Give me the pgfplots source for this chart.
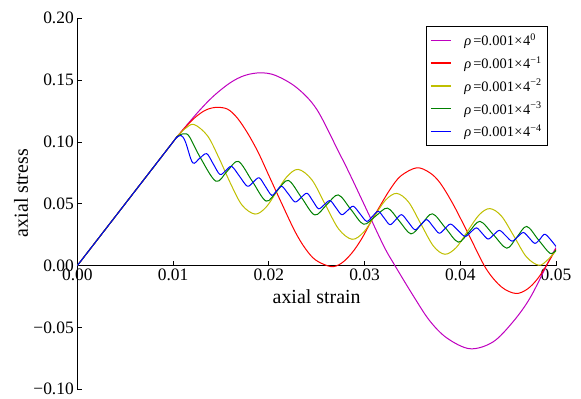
\documentclass[border=0pt]{standalone}
\usepackage{fontspec}
\setmainfont{Liberation Serif}
\usepackage{pgfplots}
\pgfplotsset{compat=1.18}
\definecolor{mpM}{RGB}{191,0,191}
\definecolor{mpR}{RGB}{255,0,0}
\definecolor{mpY}{RGB}{191,191,0}
\definecolor{mpG}{RGB}{0,128,0}
\definecolor{mpB}{RGB}{0,0,255}
\begin{document}
\begin{tikzpicture}
\begin{axis}[
  scale only axis, width=478.7bp, height=371bp,
  xmin=0, xmax=0.05, ymin=-0.1, ymax=0.2,
  axis x line*=middle, axis y line*=left,
  hide obscured x ticks=false, hide obscured y ticks=false,
  xtick={0,0.01,0.02,0.03,0.04,0.05},
  xticklabels={0.00,0.01,0.02,0.03,0.04,0.05},
  ytick={-0.1,-0.05,0,0.05,0.1,0.15,0.2},
  yticklabels={−0.10,−0.05,0.00,0.05,0.10,0.15,0.20},
  tick align=inside, major tick length=4.5bp,
  tick style={black, line width=0.8bp},
  axis line style={black, line width=0.8bp},
  ticklabel style={font=\fontsize{17.5}{19}\selectfont},
  scaled x ticks=false, scaled y ticks=false,
  xlabel={axial strain}, ylabel={axial stress},
  label style={font=\fontsize{20}{22}\selectfont},
  x label style={at={(axis description cs:0.5,0.2488)}, anchor=center},
  y label style={at={(axis description cs:-0.1176,0.529)}, anchor=center},
  legend style={at={(axis description cs:0.9833,0.979)}, anchor=north east,
    draw=black, line width=0.8bp, fill=white,
    font=\fontsize{14.5}{16}\selectfont, inner xsep=4bp, inner ysep=5bp,
    row sep=5.5bp, cells={anchor=west}},
  legend image code/.code={\draw[line width=1.2bp, #1] (0bp,0bp) -- (20bp,0bp); \path (31bp,0bp);},
  every axis plot/.append style={line width=1bp, smooth, tension=0.55},
]
\coordinate (bbsw) at (rel axis cs:0,0);
\coordinate (bbne) at (rel axis cs:1,1);

\addplot[color=mpM] coordinates {
(0,0) (0.0095,0.0950) (0.0104,0.1040) (0.0125,0.1232) (0.0142,0.1369) (0.0160,0.1480) (0.0175,0.1538)
(0.0191,0.1559) (0.0207,0.1538) (0.0229,0.1440) (0.0250,0.1265) (0.0273,0.0920)
(0.0284,0.0750) (0.0300,0.0488) (0.0320,0.0160) (0.0331,0.0010) (0.0351,-0.0245)
(0.0368,-0.0445) (0.0386,-0.0585) (0.0410,-0.0672) (0.0434,-0.0618) (0.0455,-0.0455)
(0.0473,-0.0260) (0.0492,0.0030) (0.0500,0.0146)};
\addlegendentry{{\itshape ρ}\kern2bp=0.001\kern0.5bp×\kern0.5bp4\textsuperscript{0}}

\addplot[color=mpR] coordinates {
(0,0) (0.0095,0.0950) (0.0104,0.1040) (0.0115,0.1137) (0.0125,0.1211) (0.0135,0.1261) (0.01456,0.1280)
(0.0157,0.1265) (0.0167,0.1195) (0.0178,0.1070) (0.0189,0.0915) (0.0200,0.0730)
(0.0212,0.0528) (0.0227,0.0282) (0.0238,0.0140) (0.0249,0.0045) (0.0265,-0.0008)
(0.0276,0.0020) (0.0287,0.0104) (0.0297,0.0217) (0.0306,0.0345) (0.0316,0.0480)
(0.0327,0.0620) (0.0338,0.0726) (0.03545,0.0791) (0.0368,0.0752) (0.0379,0.0668)
(0.0393,0.0490) (0.0410,0.0232) (0.0427,-0.0025) (0.0443,-0.0172) (0.0458,-0.0225)
(0.0470,-0.0190) (0.0481,-0.0104) (0.0492,0.0027) (0.0500,0.0134)};
\addlegendentry{{\itshape ρ}\kern2bp=0.001\kern0.5bp×\kern0.5bp4\textsuperscript{−1}}

\addplot[color=mpY] coordinates {
(0,0) (0.0095,0.0950) (0.0104,0.1040) (0.0113,0.1110) (0.0122,0.1141) (0.0136,0.1050) (0.0148,0.0870)
(0.0160,0.0665) (0.0172,0.0490) (0.01856,0.0417) (0.0197,0.0471) (0.0208,0.0595)
(0.0219,0.0720) (0.02308,0.0778) (0.0245,0.0694) (0.0259,0.0494) (0.0273,0.0296)
(0.0287,0.0213) (0.0299,0.0270) (0.0310,0.0395) (0.0322,0.0530) (0.03336,0.0584)
(0.0346,0.0514) (0.0359,0.0335) (0.0372,0.0158) (0.0384,0.0092) (0.0396,0.0148)
(0.0408,0.0283) (0.0420,0.0413) (0.0431,0.0461) (0.0443,0.0401) (0.0456,0.0239)
(0.0469,0.0072) (0.0482,0.0003) (0.0491,0.0045) (0.0500,0.0120)};
\addlegendentry{{\itshape ρ}\kern2bp=0.001\kern0.5bp×\kern0.5bp4\textsuperscript{−2}}

\addplot[color=mpG] coordinates {
(0,0) (0.0095,0.0950) (0.0104,0.1040) (0.01075,0.1058) (0.0112,0.1066) (0.0117,0.1044) (0.01284,0.0875)
(0.01447,0.0683) (0.01565,0.0763) (0.01682,0.0843) (0.01827,0.0683) (0.01972,0.0522)
(0.02088,0.0606) (0.02204,0.0689) (0.02342,0.0550) (0.0248,0.0410) (0.02603,0.0491)
(0.02726,0.0572) (0.02858,0.0454) (0.0299,0.0335) (0.03115,0.0400) (0.0324,0.0465)
(0.03363,0.0361) (0.03485,0.0257) (0.03598,0.0338) (0.0371,0.0419) (0.03845,0.0305)
(0.0398,0.0190) (0.04093,0.0274) (0.04206,0.0358) (0.04346,0.0250) (0.04485,0.0141)
(0.0459,0.0229) (0.04694,0.0317) (0.04816,0.0209) (0.04937,0.0100) (0.0500,0.0125)};
\addlegendentry{{\itshape ρ}\kern2bp=0.001\kern0.5bp×\kern0.5bp4\textsuperscript{−3}}

\addplot[color=mpB] coordinates {
(0,0) (0.0095,0.0950) (0.0103,0.1030) (0.01085,0.1052) (0.0113,0.1000) (0.01205,0.0832) (0.01279,0.0869) (0.01352,0.0905)
(0.01421,0.0821) (0.0149,0.0737) (0.01552,0.0770) (0.01613,0.0802) (0.01695,0.0722)
(0.01776,0.0642) (0.01838,0.0676) (0.0190,0.0710) (0.01965,0.0640) (0.0203,0.0569)
(0.02083,0.0606) (0.02135,0.0642) (0.02205,0.0579) (0.02274,0.0515) (0.02337,0.0550)
(0.0240,0.0585) (0.0246,0.0523) (0.0252,0.0460) (0.0258,0.0493) (0.0264,0.0526)
(0.02701,0.0469) (0.02762,0.0412) (0.02823,0.0446) (0.02883,0.0480) (0.02953,0.0419)
(0.03023,0.0358) (0.03084,0.0399) (0.03144,0.0439) (0.03205,0.0385) (0.03266,0.0331)
(0.03327,0.0372) (0.03388,0.0412) (0.03458,0.0351) (0.03527,0.0290) (0.03589,0.0331)
(0.0365,0.0372) (0.03715,0.0317) (0.0378,0.0262) (0.0384,0.0299) (0.0390,0.0336)
(0.03975,0.0286) (0.0405,0.0236) (0.0411,0.0271) (0.0417,0.0305) (0.0423,0.0260)
(0.0429,0.0215) (0.0435,0.0250) (0.0441,0.0285) (0.04475,0.0242) (0.0454,0.0198)
(0.0460,0.0233) (0.0466,0.0268) (0.0472,0.0224) (0.0478,0.0180) (0.04835,0.0216)
(0.0489,0.0252) (0.0500,0.0155)};
\addlegendentry{{\itshape ρ}\kern2bp=0.001\kern0.5bp×\kern0.5bp4\textsuperscript{−4}}
\end{axis}
\path ([xshift=-77.3bp,yshift=-6.7bp]bbsw) rectangle ([xshift=25bp,yshift=18.3bp]bbne);
\end{tikzpicture}
\end{document}
